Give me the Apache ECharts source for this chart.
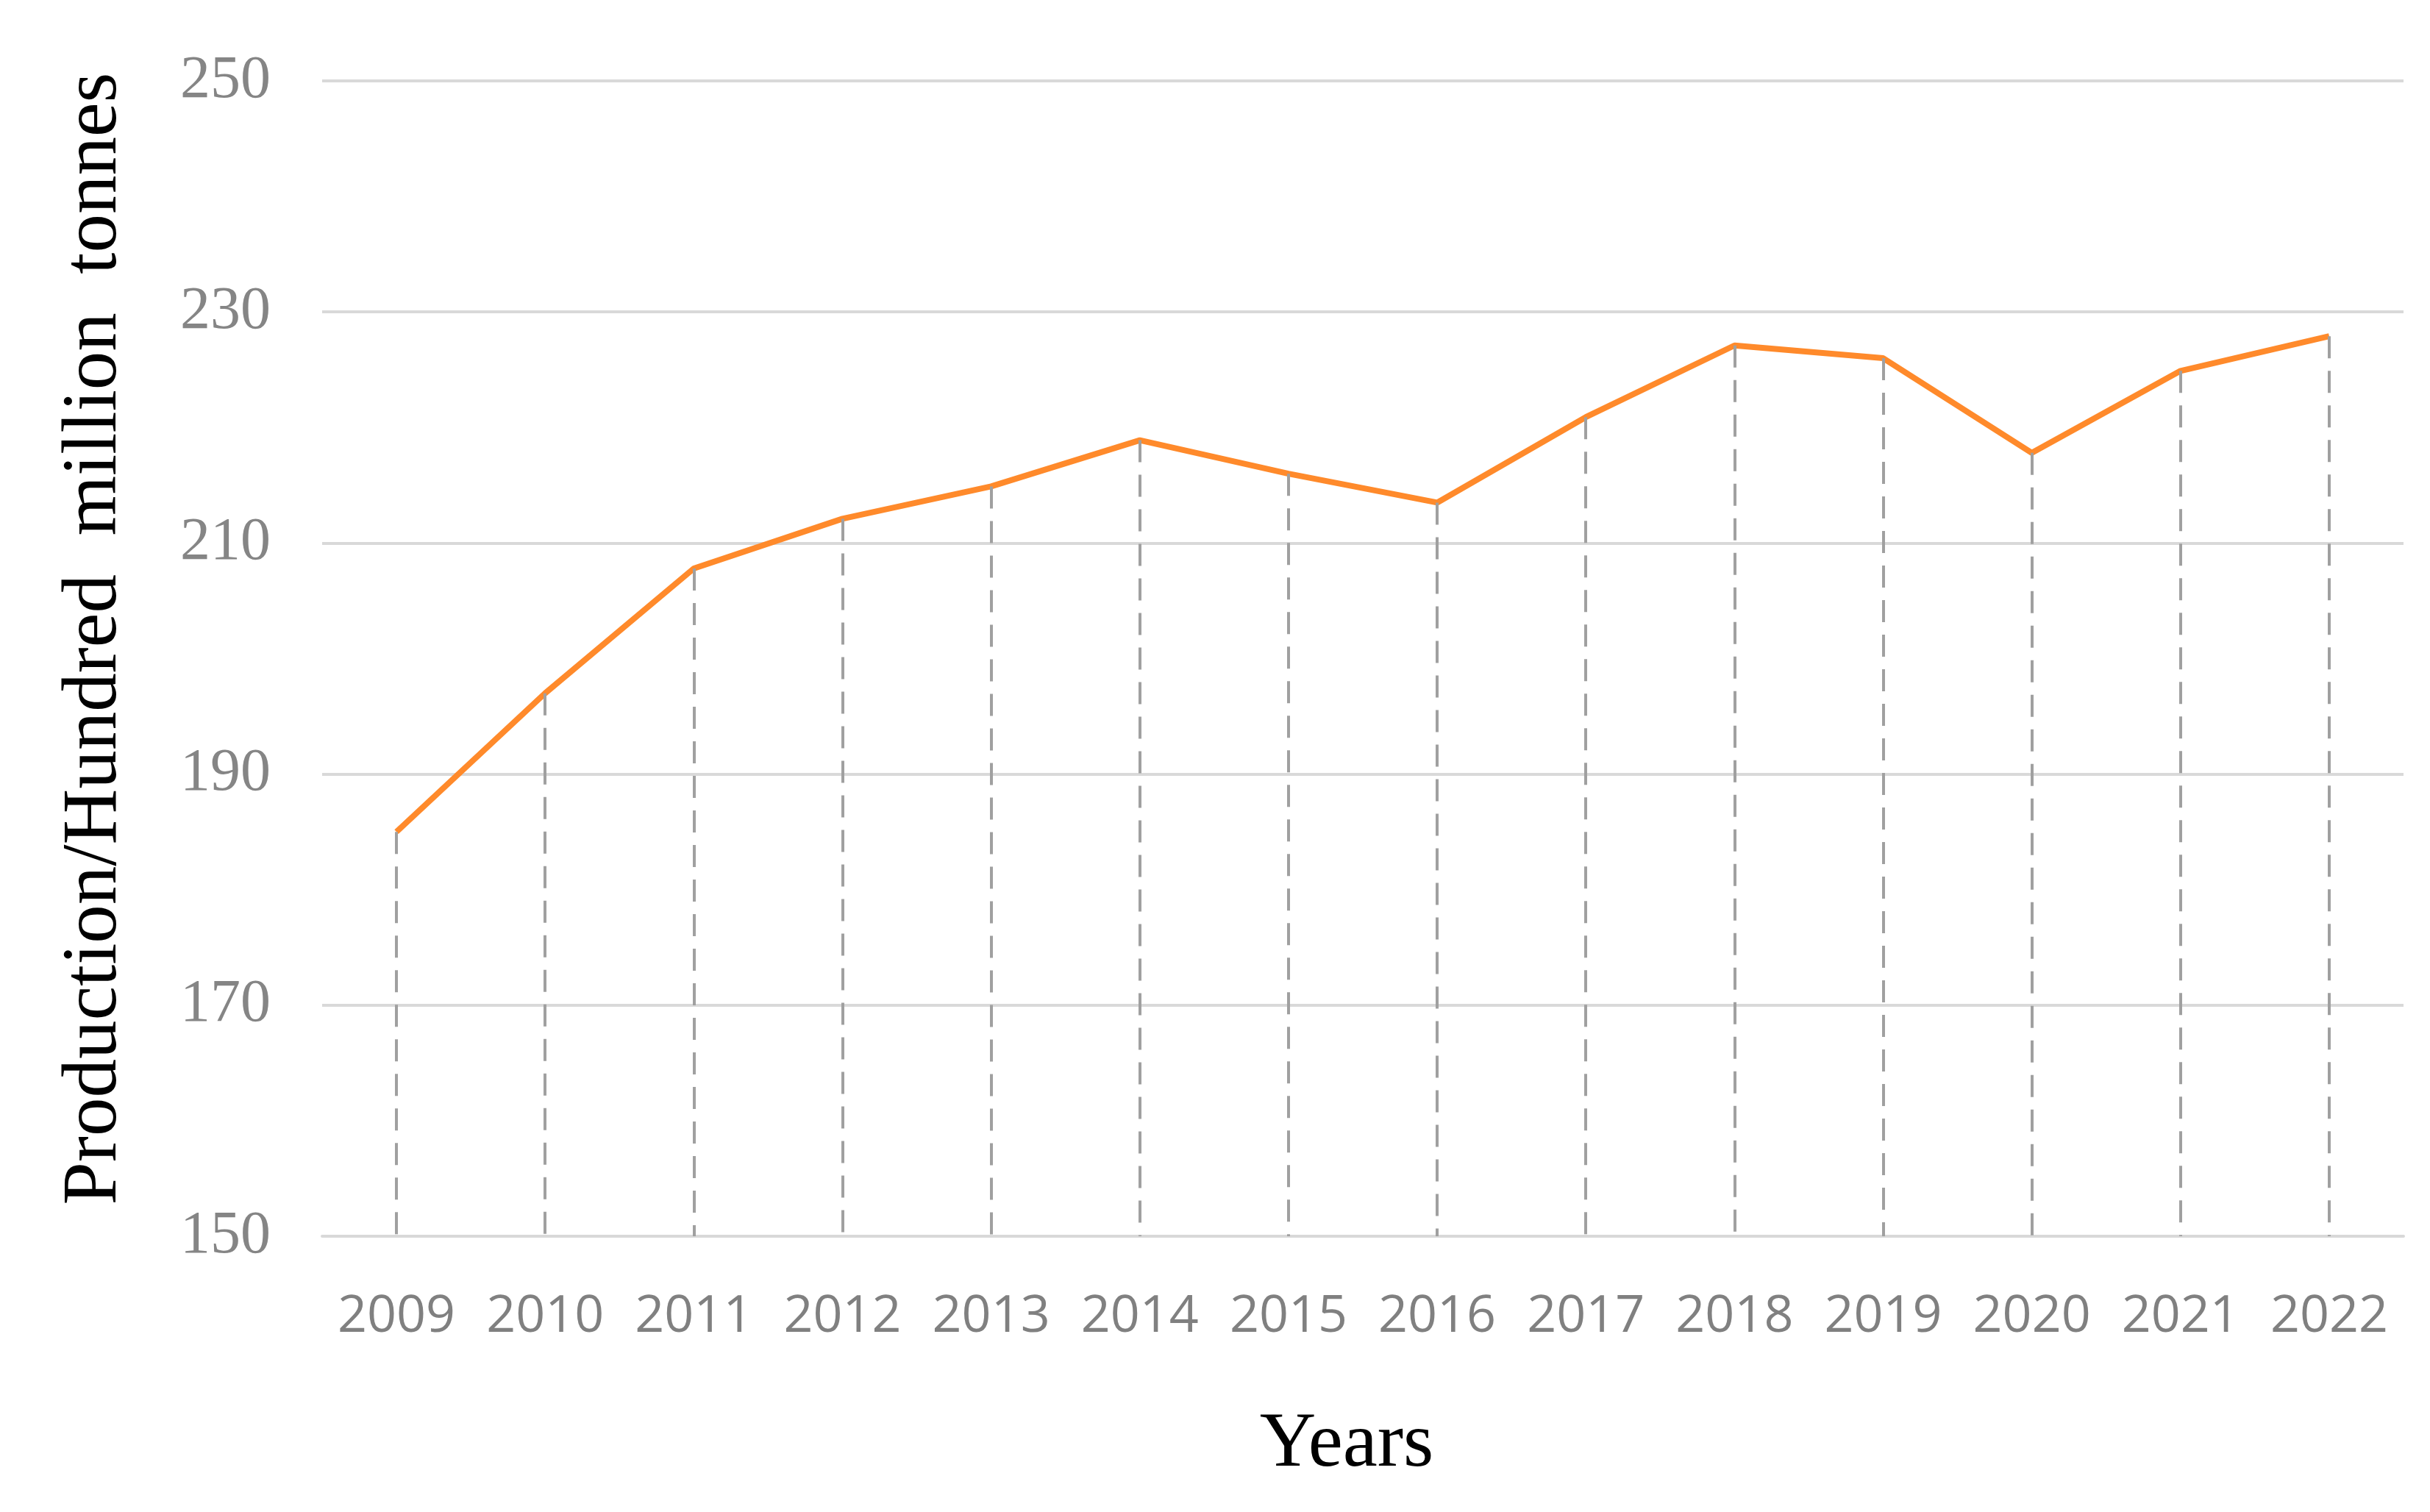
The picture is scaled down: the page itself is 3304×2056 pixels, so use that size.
<!DOCTYPE html>
<html>
<head>
<meta charset="utf-8">
<script src="https://cdn.jsdelivr.net/npm/echarts@6/dist/echarts.min.js"></script>
<style>
html,body{margin:0;padding:0;background:#fff;}
#chart{width:3304px;height:2056px;}
</style>
</head>
<body>
<div id="chart"></div>
<script>
const years = ['2009','2010','2011','2012','2013','2014','2015','2016','2017','2018','2019','2020','2021','2022'];
const production = [185, 197, 207.8, 212.1, 214.9, 218.9, 216, 213.5, 220.9, 227.1, 226, 217.8, 224.9, 227.9];
const yTicks = [150, 170, 190, 210, 230, 250];
const yMin = 150, yMax = 250, yStep = 20;

const chart = echarts.init(document.getElementById('chart'), null, {renderer: 'canvas'});
const serif = "'Liberation Serif', 'Times New Roman', serif";
chart.setOption({
  animation: false,
  backgroundColor: '#ffffff',
  grid: {left: 438, right: 36, top: 110, bottom: 375, containLabel: false},
  xAxis: {
    type: 'category',
    data: years,
    boundaryGap: true,
    name: 'Years',
    nameLocation: 'middle',
    nameGap: 231,
    nameTextStyle: {fontFamily: serif, fontSize: 106, color: '#000', padding: [0, 44, 0, 0]},
    axisLine: {show: true, lineStyle: {color: '#d9d9d9', width: 4}},
    axisTick: {show: false},
    axisLabel: {interval: 0, hideOverlap: false, fontFamily: "'Open Sans', 'Noto Sans', sans-serif", fontSize: 70, color: '#808080', margin: 75}
  },
  yAxis: {
    type: 'value',
    min: yMin, max: yMax, interval: yStep,
    name: 'Production/Hundred  million  tonnes',
    nameLocation: 'middle',
    nameRotate: 90,
    nameGap: 256,
    nameTextStyle: {fontFamily: serif, fontSize: 105, color: '#000', padding: [0, 0, 0, 54]},
    axisLine: {show: false},
    axisTick: {show: false},
    axisLabel: {fontFamily: serif, fontSize: 82, color: '#858585', margin: 70,
      formatter: v => yTicks.includes(v) ? String(v) : ''},
    splitLine: {show: true, lineStyle: {color: '#d9d9d9', width: 4}}
  },
  series: [{
    type: 'line',
    data: production,
    symbol: 'none',
    lineStyle: {color: '#ff8a2b', width: 8},
    itemStyle: {color: '#ff8a2b'},
    z: 3,
    markLine: {
      silent: true,
      symbol: ['none', 'none'],
      label: {show: false},
      lineStyle: {color: '#a0a0a0', width: 4, type: [30, 17]},
      data: years.map((y, i) => [{coord: [y, production[i]]}, {coord: [y, yMin]}])
    }
  }]
});
</script>
</body>
</html>
